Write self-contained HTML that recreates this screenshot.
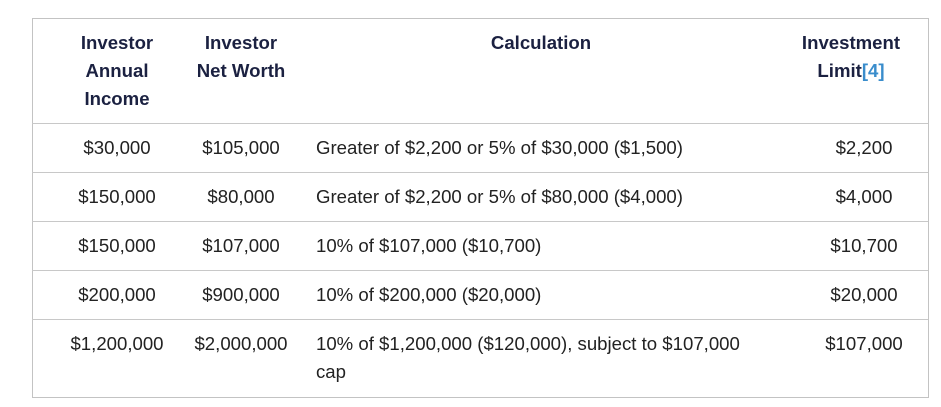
<!DOCTYPE html>
<html><head><meta charset="utf-8"><style>
body{margin:0;width:941px;height:407px;background:#fff;font-family:"Liberation Sans",sans-serif;position:relative;overflow:hidden}
.box{position:absolute;left:32px;top:18px;width:895px;height:378px;border:1px solid #c3c3c3}
.hl{position:absolute;left:32px;width:896px;height:1px;background:#c8c8c8}
.t{position:absolute;font-size:18.6px;line-height:28px;color:#222;white-space:nowrap}
.h{font-weight:bold;color:#1b2141;text-align:center}
.c{text-align:center;transform:translateX(-50%)}
a{color:#3a8dcc;text-decoration:none}
</style></head><body>
<div class="box"></div>
<div class="hl" style="top:123px"></div>
<div class="hl" style="top:172px"></div>
<div class="hl" style="top:221px"></div>
<div class="hl" style="top:270px"></div>
<div class="hl" style="top:319px"></div>

<div class="t h c" style="left:117px;top:29px">Investor<br>Annual<br>Income</div>
<div class="t h c" style="left:241px;top:29px">Investor<br>Net Worth</div>
<div class="t h c" style="left:541px;top:29px">Calculation</div>
<div class="t h c" style="left:851px;top:29px">Investment<br>Limit<a href="#">[4]</a></div>

<div class="t c" style="left:117px;top:134px">$30,000</div>
<div class="t c" style="left:241px;top:134px">$105,000</div>
<div class="t" style="left:316px;top:134px">Greater of $2,200 or 5% of $30,000 ($1,500)</div>
<div class="t c" style="left:864px;top:134px">$2,200</div>

<div class="t c" style="left:117px;top:183px">$150,000</div>
<div class="t c" style="left:241px;top:183px">$80,000</div>
<div class="t" style="left:316px;top:183px">Greater of $2,200 or 5% of $80,000 ($4,000)</div>
<div class="t c" style="left:864px;top:183px">$4,000</div>

<div class="t c" style="left:117px;top:232px">$150,000</div>
<div class="t c" style="left:241px;top:232px">$107,000</div>
<div class="t" style="left:316px;top:232px">10% of $107,000 ($10,700)</div>
<div class="t c" style="left:864px;top:232px">$10,700</div>

<div class="t c" style="left:117px;top:281px">$200,000</div>
<div class="t c" style="left:241px;top:281px">$900,000</div>
<div class="t" style="left:316px;top:281px">10% of $200,000 ($20,000)</div>
<div class="t c" style="left:864px;top:281px">$20,000</div>

<div class="t c" style="left:117px;top:330px">$1,200,000</div>
<div class="t c" style="left:241px;top:330px">$2,000,000</div>
<div class="t" style="left:316px;top:330px">10% of $1,200,000 ($120,000), subject to $107,000<br>cap</div>
<div class="t c" style="left:864px;top:330px">$107,000</div>
</body></html>
